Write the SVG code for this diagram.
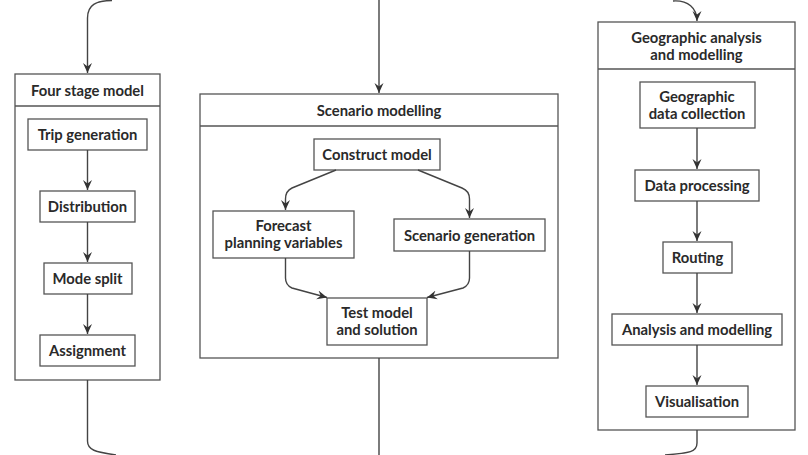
<svg xmlns="http://www.w3.org/2000/svg" width="808" height="455" viewBox="0 0 808 455">
<defs>
<marker id="ah" markerUnits="userSpaceOnUse" viewBox="0 0 10 10" refX="10" refY="5" markerWidth="10" markerHeight="10" orient="auto">
<path d="M0,0.5 L10,5 L0,9.5 L3.5,5 z" fill="#333"/>
</marker>
<style>
.c{fill:#fff;stroke:#555;stroke-width:1.3}
.n{fill:#fff;stroke:#555;stroke-width:1.3}
.t{font-family:Lato,"Liberation Sans",sans-serif;font-size:14.8px;font-weight:bold;fill:#2a2a2a;text-anchor:middle}
.l{fill:none;stroke:#444;stroke-width:1.4}
</style>
</defs>
<rect width="808" height="455" fill="#fff"/>

<g id="four-stage-model">
<rect class="c" x="15" y="74" width="145" height="306"/>
<line x1="15" y1="106" x2="160" y2="106" stroke="#555" stroke-width="1.3"/>
<text class="t" x="87.5" y="95.5">Four stage model</text>
</g>
<g id="trip-generation"><rect class="n" x="28" y="119" width="119" height="31"/><text class="t" x="87.5" y="140">Trip generation</text></g>
<g id="distribution"><rect class="n" x="40" y="191" width="95" height="31"/><text class="t" x="87.5" y="212">Distribution</text></g>
<g id="mode-split"><rect class="n" x="44" y="263" width="88" height="31"/><text class="t" x="87.5" y="284">Mode split</text></g>
<g id="assignment"><rect class="n" x="40" y="335" width="95" height="31"/><text class="t" x="87.5" y="356">Assignment</text></g>

<g id="scenario-modelling">
<rect class="c" x="200" y="94" width="358" height="264"/>
<line x1="200" y1="126" x2="558" y2="126" stroke="#555" stroke-width="1.3"/>
<text class="t" x="379" y="115.5">Scenario modelling</text>
</g>
<g id="construct-model"><rect class="n" x="314" y="139" width="126" height="31"/><text class="t" x="377" y="160">Construct model</text></g>
<g id="forecast"><rect class="n" x="213" y="211" width="141" height="47"/><text class="t" x="283.5" y="231"><tspan x="283.5">Forecast</tspan><tspan x="283.5" dy="17">planning variables</tspan></text></g>
<g id="scenario-generation"><rect class="n" x="394" y="219" width="151" height="32"/><text class="t" x="469.5" y="240.5">Scenario generation</text></g>
<g id="test-model"><rect class="n" x="327" y="298" width="100" height="47"/><text class="t" x="377" y="318"><tspan x="377">Test model</tspan><tspan x="377" dy="17">and solution</tspan></text></g>

<g id="geographic-analysis">
<rect class="c" x="598" y="22" width="197" height="408"/>
<line x1="598" y1="69" x2="795" y2="69" stroke="#555" stroke-width="1.3"/>
<text class="t" x="696.5" y="43"><tspan x="696.5">Geographic analysis</tspan><tspan x="696.5" dy="17">and modelling</tspan></text>
</g>
<g id="geographic-data-collection"><rect class="n" x="640" y="82" width="115" height="46"/><text class="t" x="697" y="102"><tspan x="697">Geographic</tspan><tspan x="697" dy="17">data collection</tspan></text></g>
<g id="data-processing"><rect class="n" x="635" y="170" width="124" height="31"/><text class="t" x="697" y="191">Data processing</text></g>
<g id="routing"><rect class="n" x="663" y="242" width="69" height="31"/><text class="t" x="697.5" y="263">Routing</text></g>
<g id="analysis-modelling"><rect class="n" x="612" y="314" width="170" height="31"/><text class="t" x="697" y="335">Analysis and modelling</text></g>
<g id="visualisation"><rect class="n" x="646" y="386" width="102" height="31"/><text class="t" x="697" y="407">Visualisation</text></g>

<g id="connectors">
<path class="l" d="M112,0.5 C96,0.5 87.5,5 87.5,18 L87.5,73" marker-end="url(#ah)"/>
<path class="l" d="M87.5,150 L87.5,190" marker-end="url(#ah)"/>
<path class="l" d="M87.5,222 L87.5,262" marker-end="url(#ah)"/>
<path class="l" d="M87.5,294 L87.5,334" marker-end="url(#ah)"/>
<path class="l" d="M87.5,380 L87.5,441 C87.5,450 95,452 116,455"/>

<path class="l" d="M379,0 L379,93" marker-end="url(#ah)"/>
<path class="l" d="M336,170 L292,188 Q285.5,191 285.5,199 L285.5,210" marker-end="url(#ah)"/>
<path class="l" d="M418,170 L462,188 Q469.5,191 469.5,199 L469.5,218" marker-end="url(#ah)"/>
<path class="l" d="M285.5,258 L285.5,278 Q285.5,285 292,288 L327,297.5" marker-end="url(#ah)"/>
<path class="l" d="M469.5,251 L469.5,278 Q469.5,285 463,288 L427,297.5" marker-end="url(#ah)"/>
<path class="l" d="M379,358 L379,455"/>

<path class="l" d="M673,1 C688,0 697,8 697,21" marker-end="url(#ah)"/>
<path class="l" d="M697,128 L697,169" marker-end="url(#ah)"/>
<path class="l" d="M697,201 L697,241" marker-end="url(#ah)"/>
<path class="l" d="M697,273 L697,313" marker-end="url(#ah)"/>
<path class="l" d="M697,345 L697,385" marker-end="url(#ah)"/>
<path class="l" d="M697,430 L697,443 C697,452 690,453 665,455"/>
</g>
</svg>
